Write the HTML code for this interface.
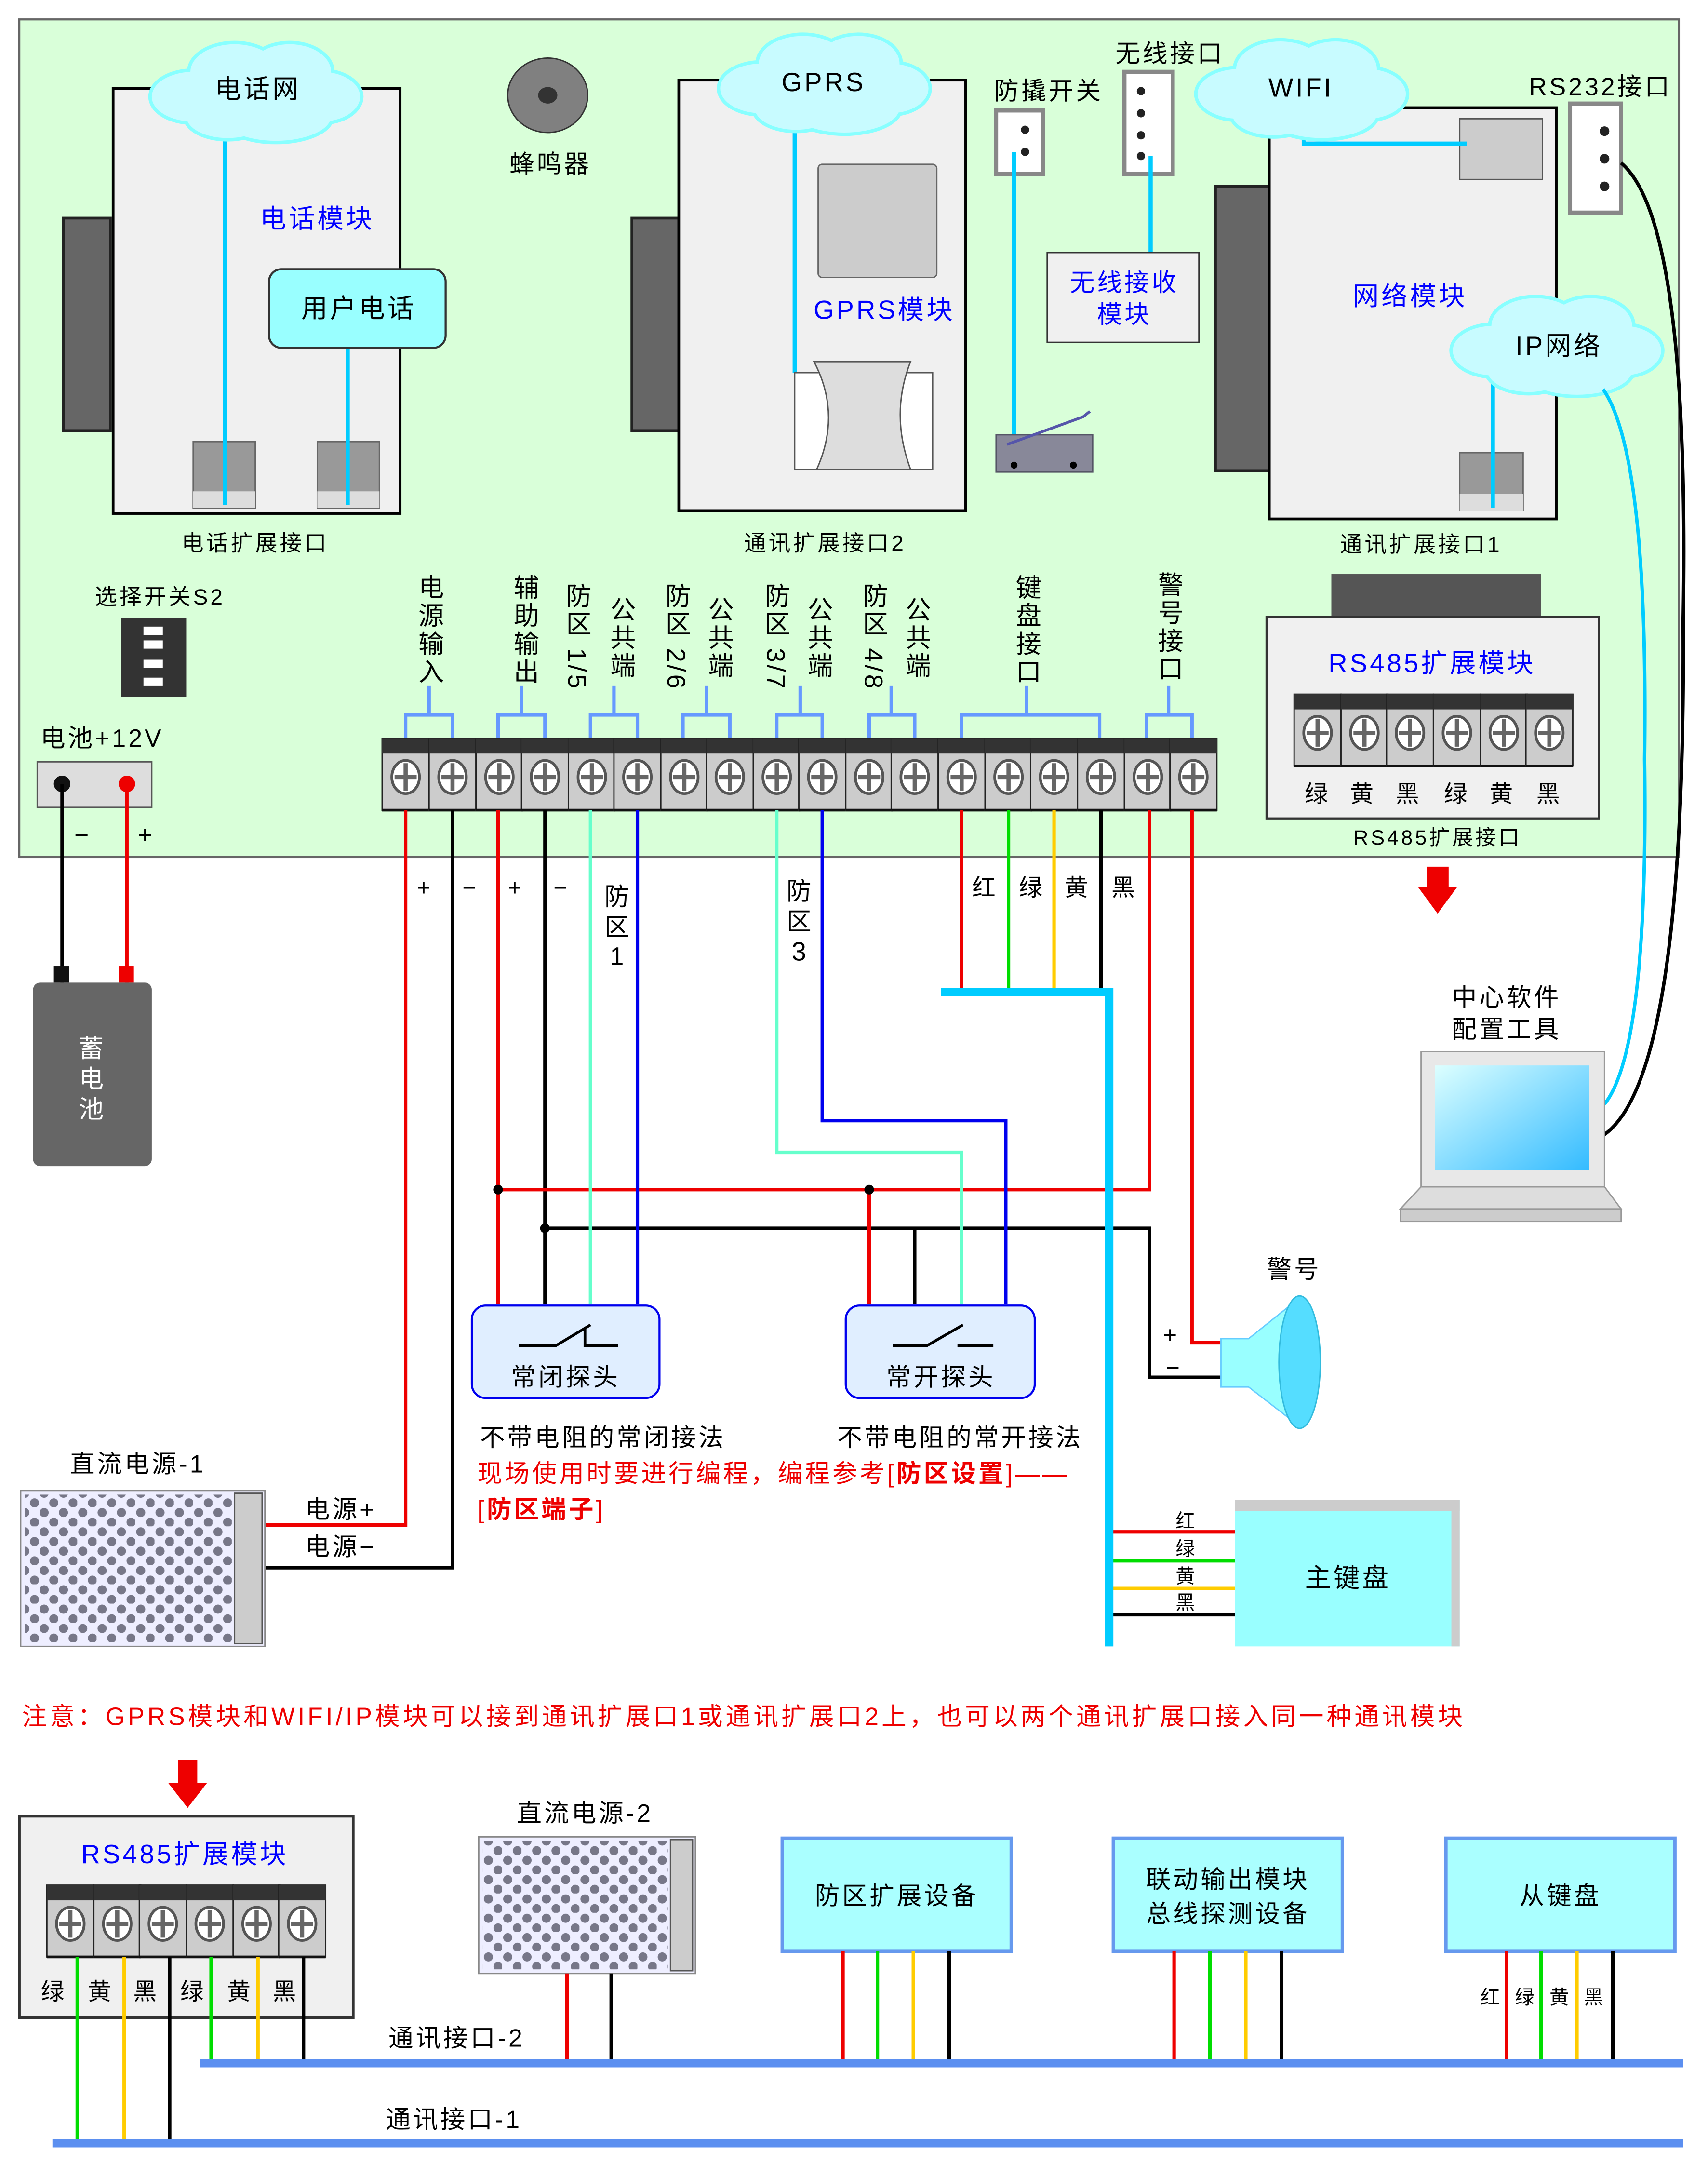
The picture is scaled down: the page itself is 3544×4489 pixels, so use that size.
<!DOCTYPE html>
<html><head><meta charset="utf-8"><style>
html,body{margin:0;padding:0;background:#fff}
svg{display:block}
text{font-family:"Liberation Sans","Noto Sans CJK SC",sans-serif;letter-spacing:1.8px}
.v{writing-mode:vertical-rl;font-size:18.5px;letter-spacing:1px}
</style></head><body>
<svg width="3544" height="4489" viewBox="0 0 1238 1568" xmlns="http://www.w3.org/2000/svg">
<defs>
<g id="t">
<rect x="0" y="0" width="34" height="52" fill="#ccc" stroke="#222" stroke-width="1"/>
<rect x="0" y="0" width="34" height="11" fill="#333"/>
<line x1="0" y1="52" x2="34" y2="52" stroke="#111" stroke-width="2"/>
<ellipse cx="17" cy="28" rx="10" ry="12" fill="#fff" stroke="#555" stroke-width="2"/>
<line x1="9" y1="28" x2="25" y2="28" stroke="#666" stroke-width="3"/>
<line x1="17" y1="18" x2="17" y2="38" stroke="#666" stroke-width="3"/>
</g>
<g id="cloud">
<g fill="none" stroke="#8ff" stroke-width="5">
<ellipse cx="-45" cy="4" rx="30" ry="18"/><ellipse cx="-15" cy="-14" rx="32" ry="20"/><ellipse cx="25" cy="-14" rx="30" ry="20"/><ellipse cx="48" cy="4" rx="28" ry="18"/><ellipse cx="15" cy="18" rx="40" ry="18"/><ellipse cx="-20" cy="18" rx="30" ry="16"/>
</g>
<g fill="#c8fbff">
<ellipse cx="-45" cy="4" rx="30" ry="18"/><ellipse cx="-15" cy="-14" rx="32" ry="20"/><ellipse cx="25" cy="-14" rx="30" ry="20"/><ellipse cx="48" cy="4" rx="28" ry="18"/><ellipse cx="15" cy="18" rx="40" ry="18"/><ellipse cx="-20" cy="18" rx="30" ry="16"/>
</g>
</g>
<pattern id="dots" width="14" height="14" patternUnits="userSpaceOnUse">
<circle cx="4" cy="4" r="3.3" fill="#778"/><circle cx="11" cy="11" r="3.3" fill="#778"/>
</pattern>
<linearGradient id="scr" x1="0" y1="0" x2="1" y2="1"><stop offset="0" stop-color="#dff"/><stop offset="1" stop-color="#3bf"/></linearGradient>
</defs>
<rect width="1238" height="1568" fill="#fff"/>
<rect x="14" y="14" width="1203" height="607" fill="#d9ffd9" stroke="#666" stroke-width="1.5"/>

<!-- phone module -->
<rect x="46" y="158" width="34" height="154" fill="#666" stroke="#222" stroke-width="2"/>
<rect x="82" y="64" width="208" height="308" fill="#f0f0f0" stroke="#000" stroke-width="2"/>
<rect x="140" y="320" width="45" height="48" fill="#999" stroke="#666"/>
<rect x="230" y="320" width="45" height="48" fill="#999" stroke="#666"/>
<rect x="140" y="356" width="45" height="12" fill="#ddd"/><rect x="230" y="356" width="45" height="12" fill="#ddd"/>
<line x1="163" y1="90" x2="163" y2="366" stroke="#0cf" stroke-width="3"/>
<line x1="252" y1="250" x2="252" y2="366" stroke="#0cf" stroke-width="3"/>
<use href="#cloud" x="185" y="66"/>
<text x="187" y="71" font-size="19" text-anchor="middle">电话网</text>
<text x="230" y="165" font-size="19" fill="#00f" text-anchor="middle">电话模块</text>
<rect x="195" y="195" width="128" height="57" rx="9" fill="#9ff" stroke="#333" stroke-width="1.5"/>
<text x="260" y="230" font-size="19" text-anchor="middle">用户电话</text>
<text x="185" y="399" font-size="16" text-anchor="middle">电话扩展接口</text>

<ellipse cx="397" cy="69" rx="29" ry="27" fill="#808080" stroke="#333"/>
<ellipse cx="397" cy="69" rx="7" ry="6" fill="#333"/>
<text x="399" y="125" font-size="18" text-anchor="middle">蜂鸣器</text>

<!-- GPRS -->
<rect x="458" y="158" width="34" height="154" fill="#666" stroke="#222" stroke-width="2"/>
<rect x="492" y="58" width="208" height="312" fill="#f0f0f0" stroke="#000" stroke-width="2"/>
<rect x="593" y="119" width="86" height="82" rx="3" fill="#ccc" stroke="#666"/>
<line x1="576" y1="88" x2="576" y2="270" stroke="#0cf" stroke-width="3"/>
<rect x="576" y="270" width="100" height="70" fill="#fff" stroke="#555"/>
<path d="M590 262 Q610 300 592 340 L660 340 Q645 300 660 262 Z" fill="#ddd" stroke="#555"/>
<use href="#cloud" x="597" y="60"/>
<text x="597" y="66" font-size="19" text-anchor="middle">GPRS</text>
<text x="641" y="231" font-size="19" fill="#00f" text-anchor="middle">GPRS模块</text>
<text x="598" y="399" font-size="16" text-anchor="middle">通讯扩展接口2</text>

<text x="760" y="72" font-size="18" text-anchor="middle">防撬开关</text>
<rect x="722" y="80" width="34" height="46" fill="#fff" stroke="#888" stroke-width="3"/>
<circle cx="743" cy="94" r="3" fill="#222"/><circle cx="743" cy="110" r="3" fill="#222"/>
<line x1="735" y1="110" x2="735" y2="318" stroke="#0cf" stroke-width="3"/>
<rect x="722" y="315" width="70" height="27" fill="#889" stroke="#556"/>
<path d="M730 322 L785 302 L790 298" stroke="#55a" stroke-width="2" fill="none"/>
<circle cx="735" cy="337" r="2.5" fill="#000"/><circle cx="778" cy="337" r="2.5" fill="#000"/>
<text x="848" y="45" font-size="18" text-anchor="middle">无线接口</text>
<rect x="815" y="52" width="35" height="74" fill="#fff" stroke="#888" stroke-width="3"/>
<circle cx="827" cy="66" r="3" fill="#222"/><circle cx="827" cy="82" r="3" fill="#222"/><circle cx="827" cy="98" r="3" fill="#222"/><circle cx="827" cy="113" r="3" fill="#222"/>
<line x1="834" y1="113" x2="834" y2="183" stroke="#0cf" stroke-width="3"/>
<rect x="759" y="183" width="110" height="65" fill="#f0f0f0" stroke="#333"/>
<text x="815" y="211" font-size="18" fill="#00f" text-anchor="middle">无线接收</text>
<text x="815" y="234" font-size="18" fill="#00f" text-anchor="middle">模块</text>

<!-- network module -->
<rect x="881" y="135" width="41" height="206" fill="#666" stroke="#222" stroke-width="2"/>
<rect x="920" y="78" width="208" height="298" fill="#f0f0f0" stroke="#000" stroke-width="2"/>
<rect x="1058" y="86" width="60" height="44" fill="#ccc" stroke="#555"/>
<rect x="1058" y="328" width="46" height="42" fill="#999" stroke="#666"/><rect x="1058" y="358" width="46" height="12" fill="#ddd"/>
<path d="M945 90 L945 104 L1063 104" stroke="#0cf" stroke-width="3" fill="none"/>
<line x1="1082" y1="260" x2="1082" y2="368" stroke="#0cf" stroke-width="3"/>
<use href="#cloud" x="943" y="64"/>
<text x="943" y="70" font-size="19" text-anchor="middle">WIFI</text>
<text x="1022" y="221" font-size="19" fill="#00f" text-anchor="middle">网络模块</text>
<use href="#cloud" x="1128" y="250"/>
<text x="1130" y="257" font-size="19" text-anchor="middle">IP网络</text>
<text x="1030" y="400" font-size="16" text-anchor="middle">通讯扩展接口1</text>
<text x="1160" y="69" font-size="18" text-anchor="middle">RS232接口</text>
<rect x="1138" y="75" width="37" height="79" fill="#fff" stroke="#888" stroke-width="3"/>
<circle cx="1163" cy="95" r="3.5" fill="#222"/><circle cx="1163" cy="115" r="3.5" fill="#222"/><circle cx="1163" cy="135" r="3.5" fill="#222"/>
<path d="M1175 118 Q1225 160 1220 450 Q1222 780 1163 822" stroke="#000" stroke-width="2.5" fill="none"/>
<path d="M1162 282 Q1195 330 1192 550 Q1195 760 1163 800" stroke="#0cf" stroke-width="2.5" fill="none"/>

<!-- RS485 module -->
<rect x="965" y="416" width="152" height="31" fill="#555"/>
<rect x="918" y="447" width="241" height="146" fill="#f0f0f0" stroke="#333" stroke-width="1.5"/>
<text x="1038" y="487" font-size="19" fill="#00f" text-anchor="middle">RS485扩展模块</text>
<use href="#t" x="938" y="503"/><use href="#t" x="972" y="503"/><use href="#t" x="1005" y="503"/><use href="#t" x="1039" y="503"/><use href="#t" x="1073" y="503"/><use href="#t" x="1106" y="503"/>
<g font-size="17" text-anchor="middle"><text x="955" y="581">绿</text><text x="988" y="581">黄</text><text x="1021" y="581">黑</text><text x="1056" y="581">绿</text><text x="1089" y="581">黄</text><text x="1123" y="581">黑</text></g>
<text x="1042" y="612" font-size="15" text-anchor="middle">RS485扩展接口</text>
<polygon points="1034,628 1050,628 1050,643 1056,643 1042,662 1028,643 1034,643" fill="#e00"/>

<text x="116" y="438" font-size="16" text-anchor="middle">选择开关S2</text>
<rect x="88" y="448" width="47" height="57" fill="#333"/>
<g fill="#fff"><rect x="104" y="454" width="14" height="6"/><rect x="104" y="464" width="14" height="6"/><rect x="104" y="478" width="14" height="6"/><rect x="104" y="491" width="14" height="6"/></g>
<text x="74" y="541" font-size="18" text-anchor="middle">电池+12V</text>
<rect x="27" y="552" width="83" height="33" fill="#ddd" stroke="#555"/>
<circle cx="45" cy="568" r="6" fill="#111"/><circle cx="92" cy="568" r="6" fill="#e00"/>
<text x="60" y="611" font-size="18" text-anchor="middle">−</text><text x="106" y="611" font-size="18" text-anchor="middle">+</text>
<line x1="45" y1="568" x2="45" y2="712" stroke="#000" stroke-width="2.5"/>
<line x1="92" y1="568" x2="92" y2="712" stroke="#e00" stroke-width="2.5"/>
<rect x="39" y="700" width="11" height="12" fill="#111"/><rect x="86" y="700" width="11" height="12" fill="#e00"/>
<rect x="24" y="712" width="86" height="133" rx="5" fill="#666"/>
<text x="67" y="766" font-size="18" fill="#fff" text-anchor="middle">蓄</text>
<text x="67" y="788" font-size="18" fill="#fff" text-anchor="middle">电</text>
<text x="67" y="810" font-size="18" fill="#fff" text-anchor="middle">池</text>

<g class="v">
<text x="311" y="416">电源输入</text>
<text x="380" y="416">辅助输出</text>
<text x="418" y="422">防区 1/5</text>
<text x="450" y="432">公共端</text>
<text x="490" y="422">防区 2/6</text>
<text x="521" y="432">公共端</text>
<text x="562" y="422">防区 3/7</text>
<text x="593" y="432">公共端</text>
<text x="633" y="422">防区 4/8</text>
<text x="664" y="432">公共端</text>
<text x="744" y="416">键盘接口</text>
<text x="847" y="414">警号接口</text>
</g>
<g stroke="#69f" stroke-width="2.5" fill="none">
<path d="M294 535 V518 H328 V535 M311 518 V497"/>
<path d="M361 535 V518 H395 V535 M378 518 V497"/>
<path d="M428 535 V518 H462 V535 M445 518 V497"/>
<path d="M495 535 V518 H529 V535 M512 518 V497"/>
<path d="M563 535 V518 H596 V535 M580 518 V497"/>
<path d="M630 535 V518 H663 V535 M646 518 V497"/>
<path d="M697 535 V518 H797 V535 M744 518 V497"/>
<path d="M831 535 V518 H864 V535 M847 518 V497"/>
</g>
<g>
<use href="#t" x="277" y="535"/><use href="#t" x="311" y="535"/>
<use href="#t" x="345" y="535"/><use href="#t" x="378" y="535"/>
<use href="#t" x="412" y="535"/><use href="#t" x="445" y="535"/><use href="#t" x="479" y="535"/><use href="#t" x="512" y="535"/><use href="#t" x="546" y="535"/><use href="#t" x="579" y="535"/><use href="#t" x="613" y="535"/><use href="#t" x="646" y="535"/>
<use href="#t" x="680" y="535"/><use href="#t" x="714" y="535"/><use href="#t" x="747" y="535"/><use href="#t" x="781" y="535"/>
<use href="#t" x="815" y="535"/><use href="#t" x="848" y="535"/>
</g>

<g fill="none" stroke-width="2.5">
<path d="M294 587 V1105 H182" stroke="#e00"/>
<path d="M328 587 V1136 H182" stroke="#000"/>
<path d="M361 587 V945" stroke="#e00"/>
<path d="M395 587 V945" stroke="#000"/>
<path d="M361 862 H833 V587" stroke="#e00"/>
<path d="M395 890 H833 V998 H885" stroke="#000"/>
<path d="M864 587 V973 H885" stroke="#e00"/>
<path d="M630 862 V945" stroke="#e00"/>
<path d="M663 890 V945" stroke="#000"/>
<path d="M428 587 V945" stroke="#6fc"/>
<path d="M462 587 V945" stroke="#00e"/>
<path d="M563 587 V835 H697 V945" stroke="#6fc"/>
<path d="M596 587 V812 H729 V945" stroke="#00e"/>
<path d="M697 587 V717" stroke="#e00"/>
<path d="M731 587 V717" stroke="#0d0"/>
<path d="M764 587 V717" stroke="#fc0"/>
<path d="M798 587 V717" stroke="#000"/>
<path d="M806 1110 H895" stroke="#e00"/>
<path d="M806 1131 H895" stroke="#0d0"/>
<path d="M806 1151 H895" stroke="#fc0"/>
<path d="M806 1170 H895" stroke="#000"/>
</g>
<path d="M682 719 H804 V1193" stroke="#0cf" stroke-width="6" fill="none"/>
<circle cx="361" cy="862" r="3.5"/><circle cx="395" cy="890" r="3.5"/><circle cx="630" cy="862" r="3.5"/>
<g font-size="17" text-anchor="middle">
<text x="308" y="649">+</text><text x="341" y="649">−</text><text x="374" y="649">+</text><text x="407" y="649">−</text>
<text x="448" y="656" font-size="18">防</text><text x="448" y="678" font-size="18">区</text><text x="448" y="699" font-size="18">1</text>
<text x="580" y="652" font-size="18">防</text><text x="580" y="674" font-size="18">区</text><text x="580" y="696" font-size="19">3</text>
<text x="714" y="649">红</text><text x="748" y="649">绿</text><text x="781" y="649">黄</text><text x="815" y="649">黑</text>
<text x="849" y="973">+</text><text x="851" y="997">−</text>
</g>

<rect x="342" y="946" width="136" height="67" rx="10" fill="#e0eeff" stroke="#00e" stroke-width="1.5"/>
<path d="M376 975 H403 L428 960 M424 962 V975 H448" stroke="#000" stroke-width="2" fill="none"/>
<text x="410" y="1004" font-size="18" text-anchor="middle">常闭探头</text>
<rect x="613" y="946" width="137" height="67" rx="10" fill="#e0eeff" stroke="#00e" stroke-width="1.5"/>
<path d="M647 975 H672 L698 960 M694 975 H720" stroke="#000" stroke-width="2" fill="none"/>
<text x="682" y="1004" font-size="18" text-anchor="middle">常开探头</text>
<text x="437" y="1048" font-size="18" text-anchor="middle">不带电阻的常闭接法</text>
<text x="696" y="1048" font-size="18" text-anchor="middle">不带电阻的常开接法</text>
<text x="346" y="1074" font-size="18" fill="#e00">现场使用时要进行编程，编程参考[<tspan font-weight="bold">防区设置</tspan>]——</text>
<text x="346" y="1100" font-size="18" fill="#e00">[<tspan font-weight="bold">防区端子</tspan>]</text>

<text x="938" y="926" font-size="18" text-anchor="middle">警号</text>
<path d="M885 970 L905 970 L940 942 L940 1032 L905 1005 L885 1005 Z" fill="#9ff" stroke="#6cf"/>
<ellipse cx="942" cy="987" rx="15" ry="48" fill="#5df" stroke="#3bd"/>

<text x="1092" y="729" font-size="18" text-anchor="middle">中心软件</text>
<text x="1092" y="752" font-size="18" text-anchor="middle">配置工具</text>
<rect x="1030" y="762" width="133" height="98" fill="#e8e8e8" stroke="#999"/>
<rect x="1040" y="772" width="112" height="76" fill="url(#scr)"/>
<path d="M1030 860 L1015 876 L1175 876 L1163 860 Z" fill="#ddd" stroke="#999"/>
<rect x="1015" y="876" width="160" height="9" fill="#ccc" stroke="#999"/>

<rect x="895" y="1087" width="163" height="106" fill="#9ff"/>
<rect x="895" y="1087" width="163" height="8" fill="#ccc"/><rect x="1052" y="1087" width="6" height="106" fill="#ccc"/>
<text x="977" y="1150" font-size="19" text-anchor="middle">主键盘</text>
<g font-size="14" text-anchor="middle"><text x="860" y="1107">红</text><text x="860" y="1127">绿</text><text x="860" y="1147">黄</text><text x="860" y="1166">黑</text></g>

<text x="100" y="1067" font-size="18" text-anchor="middle">直流电源-1</text>
<rect x="15" y="1080" width="177" height="113" fill="#eef" stroke="#888"/>
<rect x="18" y="1083" width="150" height="107" fill="url(#dots)"/>
<rect x="170" y="1082" width="20" height="109" fill="#ccc" stroke="#555"/>
<text x="247" y="1100" font-size="18" text-anchor="middle">电源+</text>
<text x="247" y="1127" font-size="18" text-anchor="middle">电源−</text>

<text x="16" y="1250" font-size="18" fill="#e00" textLength="1046" lengthAdjust="spacing">注意：GPRS模块和WIFI/IP模块可以接到通讯扩展口1或通讯扩展口2上，也可以两个通讯扩展口接入同一种通讯模块</text>

<polygon points="129,1275 143,1275 143,1292 150,1292 136,1310 122,1292 129,1292" fill="#e00"/>
<rect x="14" y="1316" width="242" height="146" fill="#f0f0f0" stroke="#333" stroke-width="2"/>
<text x="134" y="1350" font-size="19" fill="#00f" text-anchor="middle">RS485扩展模块</text>
<use href="#t" x="34" y="1366"/><use href="#t" x="68" y="1366"/><use href="#t" x="101" y="1366"/><use href="#t" x="135" y="1366"/><use href="#t" x="169" y="1366"/><use href="#t" x="202" y="1366"/>
<g font-size="17" text-anchor="middle"><text x="39" y="1449">绿</text><text x="73" y="1449">黄</text><text x="106" y="1449">黑</text><text x="140" y="1449">绿</text><text x="174" y="1449">黄</text><text x="207" y="1449">黑</text></g>
<text x="424" y="1320" font-size="18" text-anchor="middle">直流电源-2</text>
<rect x="347" y="1331" width="157" height="99" fill="#eef" stroke="#888"/>
<rect x="350" y="1334" width="134" height="93" fill="url(#dots)"/>
<rect x="486" y="1333" width="16" height="95" fill="#ccc" stroke="#555"/>
<g fill="#aff" stroke="#69e" stroke-width="2.5">
<rect x="567" y="1332" width="166" height="82"/><rect x="807" y="1332" width="166" height="82"/><rect x="1048" y="1332" width="166" height="82"/>
</g>
<g font-size="18" text-anchor="middle"><text x="650" y="1380">防区扩展设备</text><text x="890" y="1368">联动输出模块</text><text x="890" y="1393">总线探测设备</text><text x="1131" y="1380">从键盘</text></g>
<g font-size="14" text-anchor="middle"><text x="1081" y="1452">红</text><text x="1106" y="1452">绿</text><text x="1131" y="1452">黄</text><text x="1156" y="1452">黑</text></g>
<g stroke-width="2.5">
<line x1="56" y1="1418" x2="56" y2="1553" stroke="#0d0"/><line x1="90" y1="1418" x2="90" y2="1553" stroke="#fc0"/><line x1="123" y1="1418" x2="123" y2="1553" stroke="#000"/>
<line x1="153" y1="1418" x2="153" y2="1495" stroke="#0d0"/><line x1="187" y1="1418" x2="187" y2="1495" stroke="#fc0"/><line x1="220" y1="1418" x2="220" y2="1495" stroke="#000"/>
<line x1="411" y1="1430" x2="411" y2="1495" stroke="#e00"/><line x1="443" y1="1430" x2="443" y2="1495" stroke="#000"/>
<line x1="611" y1="1414" x2="611" y2="1495" stroke="#e00"/><line x1="636" y1="1414" x2="636" y2="1495" stroke="#0d0"/><line x1="662" y1="1414" x2="662" y2="1495" stroke="#fc0"/><line x1="688" y1="1414" x2="688" y2="1495" stroke="#000"/>
<line x1="851" y1="1414" x2="851" y2="1495" stroke="#e00"/><line x1="877" y1="1414" x2="877" y2="1495" stroke="#0d0"/><line x1="903" y1="1414" x2="903" y2="1495" stroke="#fc0"/><line x1="929" y1="1414" x2="929" y2="1495" stroke="#000"/>
<line x1="1092" y1="1414" x2="1092" y2="1495" stroke="#e00"/><line x1="1117" y1="1414" x2="1117" y2="1495" stroke="#0d0"/><line x1="1143" y1="1414" x2="1143" y2="1495" stroke="#fc0"/><line x1="1169" y1="1414" x2="1169" y2="1495" stroke="#000"/>
</g>
<line x1="145" y1="1495" x2="1220" y2="1495" stroke="#5b8ff0" stroke-width="6"/>
<line x1="38" y1="1553" x2="1220" y2="1553" stroke="#5b8ff0" stroke-width="6"/>
<text x="331" y="1483" font-size="18" text-anchor="middle">通讯接口-2</text>
<text x="329" y="1542" font-size="18" text-anchor="middle">通讯接口-1</text>
</svg>
</body></html>
